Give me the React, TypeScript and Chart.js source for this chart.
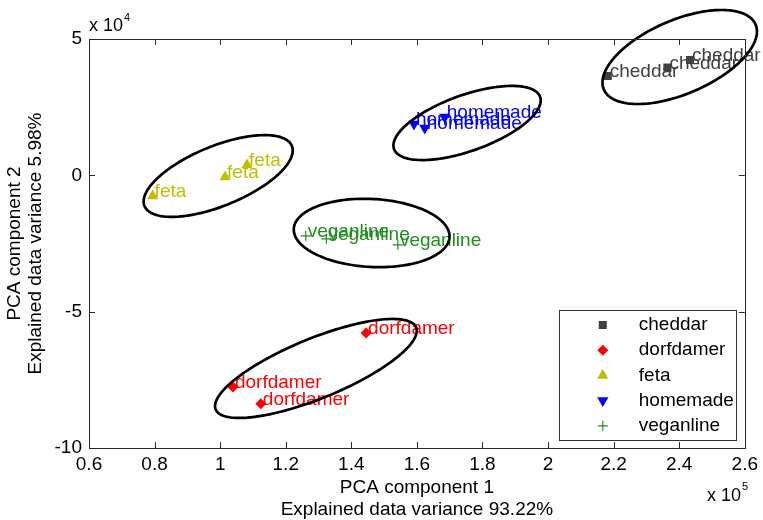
import React, { useEffect, useRef } from "react";
import { Chart, registerables } from "chart.js";

Chart.register(...registerables);

// ---- data (PCA scores; x in units of 1e5, y in units of 1e4) ----
const cheddarX = [2.182, 2.364, 2.433];
const cheddarY = [3.64, 3.95, 4.23];
const dorfdamerX = [1.445, 1.039, 1.124];
const dorfdamerY = [-5.78, -7.76, -8.38];
const fetaX = [0.794, 1.015, 1.082];
const fetaY = [-0.757, -0.06, 0.38];
const homemadeX = [1.591, 1.624, 1.685];
const homemadeY = [1.88, 1.74, 2.14];
const veganlineX = [1.261, 1.324, 1.542];
const veganlineY = [-2.22, -2.33, -2.55];

const xTicks = [0.6, 0.8, 1, 1.2, 1.4, 1.6, 1.8, 2, 2.2, 2.4, 2.6];
const yTicks = [-10, -5, 0, 5];

// group ellipses (data units): centre + two conjugate half-axis vectors
// order: cheddar, dorfdamer, feta, homemade, veganline
const ellipseCX = [2.4015, 1.292, 0.994, 1.753, 1.462];
const ellipseCY = [4.34, -7.083, -0.024, 1.92, -2.114];
const ellipseUX = [0.2315, 0.3057, 0.2248, 0.2228, 0.2375];
const ellipseUY = [1.189, 1.502, 1.099, 0.955, -0.151];
const ellipseVX = [0.0438, 0.0342, 0.0341, 0.0283, -0.0054];
const ellipseVY = [-1.249, -1.019, -1.02, -0.968, -1.245];

const xTitle = ["PCA component 1", "Explained data variance 93.22%"];
const yTitle = ["PCA component 2", "Explained data variance 5.98%"];

const FONT = "'Liberation Sans', Arial, Helvetica, sans-serif";

export default function App() {
  const ref = useRef<HTMLCanvasElement | null>(null);

  useEffect(() => {
    document.body.style.margin = "0";
    const canvas = ref.current;
    if (!canvas) return;

    const series = [
      { label: "cheddar", xs: cheddarX, ys: cheddarY, color: "#404040", style: "rect", radius: 5.7, rotation: 0 },
      { label: "dorfdamer", xs: dorfdamerX, ys: dorfdamerY, color: "#ff0000", style: "rectRot", radius: 5.5, rotation: 0 },
      { label: "feta", xs: fetaX, ys: fetaY, color: "#bfbf00", style: "triangle", radius: 6.5, rotation: 0 },
      { label: "homemade", xs: homemadeX, ys: homemadeY, color: "#0000ff", style: "triangle", radius: 6.5, rotation: 180 },
      { label: "veganline", xs: veganlineX, ys: veganlineY, color: "#1f8f1f", style: "cross", radius: 5, rotation: 0 },
    ];

    const datasets = series.map((s) => ({
      label: s.label,
      data: s.xs.map((x, i) => ({ x, y: s.ys[i] })),
      pointStyle: s.style,
      pointRadius: s.radius,
      pointHoverRadius: s.radius,
      pointRotation: s.rotation,
      backgroundColor: s.color,
      borderColor: s.color,
      borderWidth: s.style === "cross" ? 1.2 : 0,
      showLine: false,
    }));

    const drawMarker = (ctx: CanvasRenderingContext2D, style: string, x: number, y: number, r: number, rot: number, color: string) => {
      ctx.save();
      ctx.fillStyle = color;
      ctx.strokeStyle = color;
      ctx.beginPath();
      if (style === "rect") {
        const h = Math.SQRT1_2 * r;
        ctx.rect(x - h, y - h, 2 * h, 2 * h);
        ctx.fill();
      } else if (style === "rectRot") {
        ctx.moveTo(x - r, y);
        ctx.lineTo(x, y - r);
        ctx.lineTo(x + r, y);
        ctx.lineTo(x, y + r);
        ctx.closePath();
        ctx.fill();
      } else if (style === "triangle") {
        let a = (rot * Math.PI) / 180;
        ctx.moveTo(x + Math.sin(a) * r, y - Math.cos(a) * r);
        a += (2 * Math.PI) / 3;
        ctx.lineTo(x + Math.sin(a) * r, y - Math.cos(a) * r);
        a += (2 * Math.PI) / 3;
        ctx.lineTo(x + Math.sin(a) * r, y - Math.cos(a) * r);
        ctx.closePath();
        ctx.fill();
      } else {
        ctx.lineWidth = 1.2;
        ctx.moveTo(x - r, y);
        ctx.lineTo(x + r, y);
        ctx.moveTo(x, y - r);
        ctx.lineTo(x, y + r);
        ctx.stroke();
      }
      ctx.restore();
    };

    const decor = {
      id: "decor",
      afterDatasetsDraw(chart: any) {
        const ctx: CanvasRenderingContext2D = chart.ctx;
        const xs = chart.scales.x;
        const ys = chart.scales.y;
        ctx.save();
        // point labels
        ctx.font = `19px ${FONT}`;
        ctx.textAlign = "left";
        ctx.textBaseline = "alphabetic";
        chart.data.datasets.forEach((ds: any, di: number) => {
          const meta = chart.getDatasetMeta(di);
          ctx.fillStyle = ds.borderColor;
          meta.data.forEach((pt: any) => ctx.fillText(ds.label, pt.x + 2, pt.y + 1));
        });
        // ellipses
        ctx.strokeStyle = "#000";
        ctx.lineWidth = 2.7;
        for (let k = 0; k < ellipseCX.length; k++) {
          ctx.beginPath();
          const n = 160;
          for (let j = 0; j <= n; j++) {
            const t = (j / n) * 2 * Math.PI;
            const dx = ellipseCX[k] + ellipseUX[k] * Math.cos(t) + ellipseVX[k] * Math.sin(t);
            const dy = ellipseCY[k] + ellipseUY[k] * Math.cos(t) + ellipseVY[k] * Math.sin(t);
            const px = xs.getPixelForValue(dx);
            const py = ys.getPixelForValue(dy);
            if (j === 0) ctx.moveTo(px, py);
            else ctx.lineTo(px, py);
          }
          ctx.closePath();
          ctx.stroke();
        }
        ctx.restore();
      },
      afterDraw(chart: any) {
        const ctx: CanvasRenderingContext2D = chart.ctx;
        const { left, right, top, bottom } = chart.chartArea;
        const xs = chart.scales.x;
        const ys = chart.scales.y;
        ctx.save();
        // box
        ctx.strokeStyle = "#2a2a2a";
        ctx.lineWidth = 1;
        ctx.strokeRect(Math.round(left) + 0.5, Math.round(top) + 0.5, Math.round(right - left), Math.round(bottom - top));
        // inward ticks
        const tl = 6;
        ctx.beginPath();
        xTicks.forEach((v) => {
          const px = Math.round(xs.getPixelForValue(v)) + 0.5;
          ctx.moveTo(px, bottom);
          ctx.lineTo(px, bottom - tl);
          ctx.moveTo(px, top);
          ctx.lineTo(px, top + tl);
        });
        yTicks.forEach((v) => {
          const py = Math.round(ys.getPixelForValue(v)) + 0.5;
          ctx.moveTo(left, py);
          ctx.lineTo(left + tl, py);
          ctx.moveTo(right, py);
          ctx.lineTo(right - tl, py);
        });
        ctx.stroke();

        // axis titles
        ctx.fillStyle = "#000";
        ctx.font = `19px ${FONT}`;
        ctx.textAlign = "center";
        ctx.textBaseline = "middle";
        const cx = (left + right) / 2;
        ctx.fillText(xTitle[0], cx, 488);
        ctx.fillText(xTitle[1], cx, 510);
        const cy = (top + bottom) / 2;
        ctx.save();
        ctx.translate(15, cy);
        ctx.rotate(-Math.PI / 2);
        ctx.fillText(yTitle[0], 0, 0);
        ctx.restore();
        ctx.save();
        ctx.translate(36, cy);
        ctx.rotate(-Math.PI / 2);
        ctx.fillText(yTitle[1], 0, 0);
        ctx.restore();

        // exponent labels
        ctx.textAlign = "left";
        ctx.font = `18px ${FONT}`;
        ctx.fillText("x 10", left, 26);
        let w = ctx.measureText("x 10").width;
        ctx.font = `11px ${FONT}`;
        ctx.fillText("4", left + w + 1, 18);
        ctx.font = `18px ${FONT}`;
        ctx.fillText("x 10", 707, 496);
        w = ctx.measureText("x 10").width;
        ctx.font = `11px ${FONT}`;
        ctx.fillText("5", 707 + w + 1, 487);

        // legend
        const lx = right - 186;
        const ly = bottom - 138;
        const lw = 177;
        const lh = 130;
        ctx.fillStyle = "#fff";
        ctx.fillRect(lx, ly, lw, lh);
        ctx.strokeStyle = "#333";
        ctx.strokeRect(Math.round(lx) + 0.5, Math.round(ly) + 0.5, lw, lh);
        ctx.font = `19px ${FONT}`;
        ctx.textBaseline = "middle";
        series.forEach((s, i) => {
          const ry = ly + 15 + i * 25.2;
          drawMarker(ctx, s.style, lx + 44, ry, s.radius, s.rotation, s.color);
          ctx.fillStyle = "#000";
          ctx.fillText(s.label, lx + 80, ry);
        });
        ctx.restore();
      },
    };

    const chart = new Chart(canvas, {
      type: "scatter",
      data: { datasets: datasets as any },
      options: {
        responsive: false,
        animation: false,
        events: [],
        layout: { padding: { top: 39, right: 14, left: 0, bottom: 0 } },
        plugins: {
          legend: { display: false },
          tooltip: { enabled: false },
        },
        scales: {
          x: {
            type: "linear",
            min: 0.6,
            max: 2.6,
            afterBuildTicks: (s: any) => {
              s.ticks = xTicks.map((v) => ({ value: v }));
            },
            afterFit: (s: any) => {
              s.height = 72;
            },
            grid: { display: true, drawOnChartArea: false, drawTicks: false },
            border: { display: false },
            ticks: {
              color: "#000",
              padding: 5,
              maxRotation: 0,
              autoSkip: false,
              font: { family: FONT, size: 19 },
              callback: (v: any) => String(Math.round(Number(v) * 10) / 10),
            },
          },
          y: {
            type: "linear",
            min: -10,
            max: 5,
            afterBuildTicks: (s: any) => {
              s.ticks = yTicks.map((v) => ({ value: v }));
            },
            afterFit: (s: any) => {
              s.width = 89;
            },
            grid: { display: true, drawOnChartArea: false, drawTicks: false },
            border: { display: false },
            ticks: {
              color: "#000",
              padding: 7,
              autoSkip: false,
              font: { family: FONT, size: 19 },
              callback: (v: any) => String(v),
            },
          },
        },
      },
      plugins: [decor],
    } as any);

    return () => chart.destroy();
  }, []);

  return (
    <div style={{ width: 763, height: 520, background: "#fff" }}>
      <canvas ref={ref} width={763} height={520} style={{ width: 763, height: 520, display: "block" }} />
    </div>
  );
}
